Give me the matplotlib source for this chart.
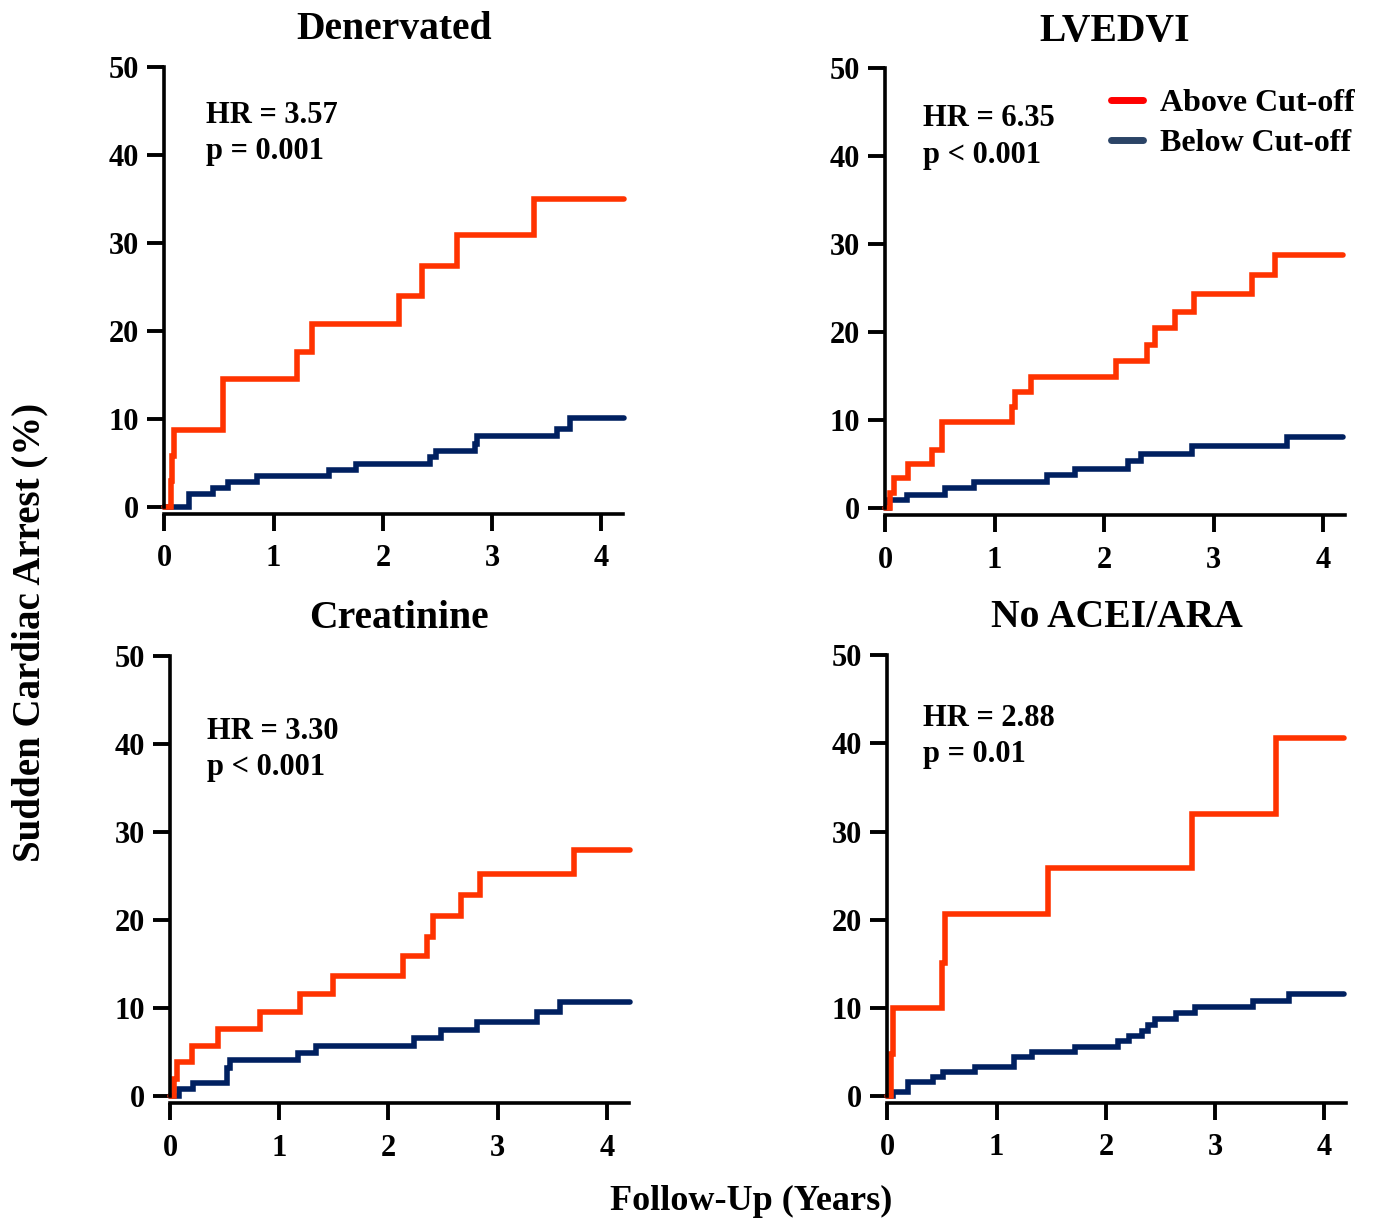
import numpy as np
import matplotlib
matplotlib.use("Agg")
import matplotlib.pyplot as plt
from matplotlib.lines import Line2D

plt.rcParams['font.family'] = ['Liberation Serif', 'DejaVu Serif']
plt.rcParams['font.weight'] = 'bold'

# Kaplan-Meier style step data (years, cumulative % SCA)
titles = ["Denervated", "LVEDVI", "Creatinine", "No ACEI/ARA"]
hr_lines = ["HR = 3.57", "HR = 6.35", "HR = 3.30", "HR = 2.88"]
p_lines = ["p = 0.001", "p < 0.001", "p < 0.001", "p = 0.01"]

den_above_t = [0, 0.06, 0.07, 0.09, 0.54, 1.21, 1.35, 2.15, 2.36, 2.68, 3.38, 4.21]
den_above_y = [0, 3.0, 5.8, 8.8, 14.6, 17.6, 20.8, 24.0, 27.4, 30.9, 35.0, 35.0]
den_below_t = [0, 0.23, 0.45, 0.58, 0.85, 1.51, 1.75, 2.43, 2.49, 2.84, 2.86, 3.59, 3.71, 4.21]
den_below_y = [0, 1.5, 2.2, 2.8, 3.5, 4.2, 4.9, 5.7, 6.4, 7.2, 8.1, 8.9, 10.1, 10.1]

lv_above_t = [0, 0.05, 0.08, 0.21, 0.43, 0.52, 1.16, 1.19, 1.33, 2.11, 2.39, 2.46, 2.65, 2.82, 3.35, 3.56, 4.18]
lv_above_y = [0, 1.7, 3.4, 5.0, 6.6, 9.8, 11.5, 13.2, 14.9, 16.7, 18.6, 20.5, 22.3, 24.4, 26.5, 28.8, 28.8]
lv_below_t = [0, 0.04, 0.20, 0.55, 0.81, 1.48, 1.73, 2.22, 2.34, 2.80, 3.67, 4.18]
lv_below_y = [0, 0.9, 1.5, 2.3, 3.0, 3.8, 4.5, 5.4, 6.2, 7.1, 8.1, 8.1]

cr_above_t = [0, 0.04, 0.06, 0.20, 0.44, 0.82, 1.19, 1.49, 2.13, 2.35, 2.41, 2.66, 2.84, 3.70, 4.21]
cr_above_y = [0, 2.0, 3.9, 5.7, 7.6, 9.6, 11.6, 13.7, 15.9, 18.1, 20.5, 22.8, 25.2, 28.0, 28.0]
cr_below_t = [0, 0.08, 0.21, 0.52, 0.55, 1.17, 1.34, 2.23, 2.48, 2.81, 3.36, 3.57, 4.21]
cr_below_y = [0, 0.8, 1.5, 3.2, 4.1, 4.9, 5.7, 6.6, 7.5, 8.5, 9.6, 10.7, 10.7]

ace_above_t = [0, 0.03, 0.05, 0.50, 0.53, 1.47, 2.79, 3.56, 4.18]
ace_above_y = [0, 4.8, 10.0, 15.1, 20.6, 25.9, 32.0, 40.6, 40.6]
ace_below_t = [0, 0.05, 0.19, 0.42, 0.51, 0.80, 1.16, 1.32, 1.72, 2.11, 2.21, 2.33, 2.39,
               2.45, 2.64, 2.82, 3.35, 3.68, 4.18]
ace_below_y = [0, 0.5, 1.6, 2.1, 2.7, 3.3, 4.4, 5.0, 5.6, 6.2, 6.8, 7.4, 8.1,
               8.7, 9.4, 10.1, 10.8, 11.6, 11.6]

above_t = [den_above_t, lv_above_t, cr_above_t, ace_above_t]
above_y = [den_above_y, lv_above_y, cr_above_y, ace_above_y]
below_t = [den_below_t, lv_below_t, cr_below_t, ace_below_t]
below_y = [den_below_y, lv_below_y, cr_below_y, ace_below_y]

red = '#ff3300'
navy = '#002060'

fig = plt.figure(figsize=(13.74, 12.21), dpi=100)

# axes boxes in figure fractions (left, bottom, width, height)
boxes = [(0.1196, 0.5848, 0.334, 0.3603),
         (0.6441, 0.5837, 0.335, 0.3603),
         (0.1237, 0.1020, 0.334, 0.3610),
         (0.6458, 0.1024, 0.334, 0.3610)]
# annotation anchor (x, baseline of HR line, baseline of p line) in data units
txt_x = [0.38, 0.35, 0.34, 0.33]
hr_base = [43.6, 43.4, 40.6, 42.0]
p_base = [39.5, 39.3, 36.5, 37.9]

for i in range(4):
    ax = fig.add_axes(boxes[i])
    ax.plot(below_t[i], below_y[i], drawstyle='steps-post', color=navy, lw=4,
            solid_capstyle='round', solid_joinstyle='miter', clip_on=False)
    ax.plot(above_t[i], above_y[i], drawstyle='steps-post', color=red, lw=4,
            solid_capstyle='round', solid_joinstyle='miter', clip_on=False)
    ax.set_xlim(0, 4.2)
    ax.set_ylim(0, 50)
    ax.set_xticks([0, 1, 2, 3, 4])
    ax.set_yticks([0, 10, 20, 30, 40, 50])
    for s in ['top', 'right']:
        ax.spines[s].set_visible(False)
    for s in ['left', 'bottom']:
        ax.spines[s].set_linewidth(2.6)
    ax.spines['bottom'].set_position(('outward', 5))
    ax.tick_params(axis='both', length=12, width=2.8, labelsize=22)
    ax.tick_params(axis='y', pad=6)
    ax.tick_params(axis='x', pad=10)
    for lab in ax.get_xticklabels() + ax.get_yticklabels():
        lab.set_fontweight('bold')
    ax.set_title(titles[i], fontsize=28.5, fontweight='bold', pad=20)
    ax.text(txt_x[i], hr_base[i], hr_lines[i], fontsize=22, fontweight='bold',
            va='baseline', ha='left')
    ax.text(txt_x[i], p_base[i], p_lines[i], fontsize=22, fontweight='bold',
            va='baseline', ha='left')
    if i == 1:
        handles = [Line2D([0], [0], color='#ff0000', lw=5, solid_capstyle='round'),
                   Line2D([0], [0], color='#2b4466', lw=5, solid_capstyle='round')]
        ax.legend(handles, ['Above Cut-off', 'Below Cut-off'], loc='upper right',
                  bbox_to_anchor=(1.07, 1.005), frameon=False, handlelength=1.0,
                  handletextpad=0.55, labelspacing=0.35, borderpad=0.2,
                  prop={'size': 23, 'weight': 'bold'})

fig.text(0.022, 0.482, 'Sudden Cardiac Arrest (%)', rotation=90, fontsize=28,
         fontweight='bold', ha='center', va='center')
fig.text(0.547, 0.016, 'Follow-Up (Years)', fontsize=26, fontweight='bold',
         ha='center', va='center')

fig.savefig('out.png', dpi=100)
